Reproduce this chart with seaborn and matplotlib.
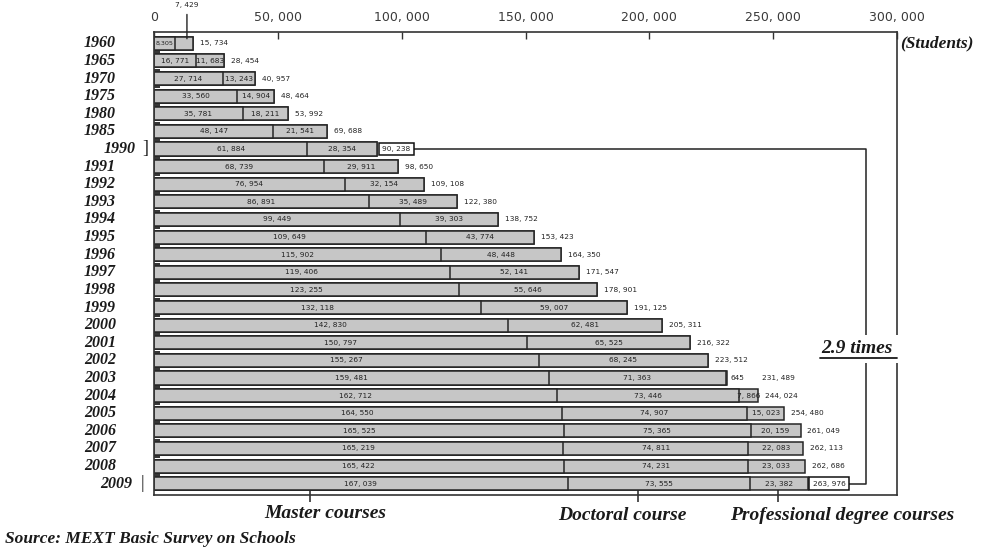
import numpy as np
import pandas as pd
import matplotlib.pyplot as plt
import matplotlib.transforms as mtransforms
import seaborn as sns

sns.set_theme(style="white")
plt.rcParams['font.family'] = ['Liberation Serif', 'DejaVu Serif']

years = ['1960', '1965', '1970', '1975', '1980', '1985', '1990', '1991', '1992', '1993',
         '1994', '1995', '1996', '1997', '1998', '1999', '2000', '2001', '2002', '2003',
         '2004', '2005', '2006', '2007', '2008', '2009']
master = [8305, 16771, 27714, 33560, 35781, 48147, 61884, 68739, 76954, 86891,
          99449, 109649, 115902, 119406, 123255, 132118, 142830, 150797, 155267, 159481,
          162712, 164550, 165525, 165219, 165422, 167039]
doctoral = [7429, 11683, 13243, 14904, 18211, 21541, 28354, 29911, 32154, 35489,
            39303, 43774, 48448, 52141, 55646, 59007, 62481, 65525, 68245, 71363,
            73446, 74907, 75365, 74811, 74231, 73555]
professional = [0, 0, 0, 0, 0, 0, 0, 0, 0, 0,
                0, 0, 0, 0, 0, 0, 0, 0, 0, 645,
                7866, 15023, 20159, 22083, 23033, 23382]
course_names = ['Master courses', 'Doctoral course', 'Professional degree courses']

df = pd.DataFrame({'year': years, 'master': master, 'doctoral': doctoral,
                   'professional': professional})
df['md'] = df['master'] + df['doctoral']
df['total'] = df['md'] + df['professional']


def fmt(v, sep=', '):
    return f'{v:,}'.replace(',', sep)


W, H = 988, 552
fig = plt.figure(figsize=(W / 100, H / 100), dpi=100)
ax = fig.add_axes([154 / W, 1 - 495 / H, 743 / W, 463 / H])

fill, edge = '#c6c6c6', '#262626'
for col in ['total', 'md', 'master']:
    sns.barplot(data=df, x=col, y='year', orient='h', color=fill, saturation=1,
                edgecolor=edge, linewidth=1.1, width=0.74, ax=ax)

n = len(years)
ax.set_xlim(0, 300000)
ax.set_ylim(n - 1 + 0.64, -0.64)
ax.set_xlabel('')
ax.set_ylabel('')

# top numeric axis
ax.xaxis.tick_top()
ticks = np.arange(0, 300001, 50000)
ax.set_xticks(ticks)
ax.set_xticklabels([fmt(t) for t in ticks], family='DejaVu Sans', fontsize=9, color='#3a3a3a')
ax.tick_params(axis='x', top=True, direction='in', length=5, width=1, color='#333333', pad=6)
ax.set_yticks([])
ax.set_yticks(np.arange(0.5, n - 1), minor=True)
ax.tick_params(axis='y', which='minor', left=True, direction='in', length=4, width=1.3,
               color='#222222')
for s in ax.spines.values():
    s.set_color('#333333')
    s.set_linewidth(1.2)

# bottom ticks pointing to course names
sec = ax.secondary_xaxis('bottom')
sec.set_xticks([63000, 195500, 252000])
sec.set_xticklabels(['', '', ''])
sec.tick_params(direction='inout', length=10, width=1.2, color='#333333')
sec.spines['bottom'].set_visible(False)

# year labels
tr = mtransforms.blended_transform_factory(ax.transAxes, ax.transData)
yfont = dict(fontsize=11.5, fontweight='bold', fontstyle='italic', color='#1a1a1a',
             va='center', ha='right', transform=tr)
mark = dict(yfont, ha='center', fontstyle='normal', fontweight='normal', fontsize=13)
for i, y in enumerate(years):
    if y == '1990':
        ax.text(-0.025, i, y, **yfont)
        ax.text(-0.012, i, ']', **mark)
    elif y == '2009':
        ax.text(-0.03, i, y, **yfont)
        ax.text(-0.015, i, '|', **mark)
    else:
        ax.text(-0.051, i, y, **yfont)

# segment and total labels
lab = dict(fontsize=5.3, family='DejaVu Sans', color='#222222', va='center')
for i, r in df.iterrows():
    if i == 0:
        ax.text(r['master'] / 2, i, fmt(r['master'], ','), ha='center',
                **dict(lab, fontsize=4.6))
        ax.annotate(fmt(r['doctoral']), xy=(13300, -0.1), xytext=(13300, -2.15), ha='center',
                    arrowprops=dict(arrowstyle='-', color='#222222', lw=1.0),
                    annotation_clip=False, **lab)
    else:
        ax.text(r['master'] / 2, i, fmt(r['master']), ha='center', **lab)
        ax.text(r['master'] + r['doctoral'] / 2, i, fmt(r['doctoral']), ha='center', **lab)
    p = r['professional']
    off = 5
    if p >= 5000:
        ax.text(r['md'] + p / 2, i, fmt(p), ha='center', **lab)
    elif p > 0:
        ax.annotate(fmt(p), xy=(r['total'], i), xytext=(2, 0), textcoords='offset points',
                    ha='left', **lab)
        off = 25
    if years[i] in ('1990', '2009'):
        ax.annotate(fmt(r['total']), xy=(r['total'], i), xytext=(3.5, 0),
                    textcoords='offset points', ha='left', zorder=6,
                    bbox=dict(boxstyle='square,pad=0.45', fc='white', ec='#111111', lw=1.1),
                    **lab)
    else:
        ax.annotate(fmt(r['total']), xy=(r['total'], i), xytext=(off, 0),
                    textcoords='offset points', ha='left', **lab)

# 2.9 times bracket
i90, i09 = years.index('1990'), years.index('2009')
bx = 287600
ax.plot([101000, bx, bx, 280800], [i90, i90, i09, i09], color='#222222', lw=1.1,
        clip_on=False, zorder=5)
ax.text(284000, 17.35, '2.9 times', fontsize=14, fontweight='bold', fontstyle='italic',
        ha='center', va='center', color='#1a1a1a', zorder=7, clip_on=False,
        bbox=dict(boxstyle='square,pad=0.3', fc='white', ec='none'))
fig.add_artist(plt.Line2D([820 / W, 897 / W], [1 - 358 / H, 1 - 358 / H],
                          color='#1a1a1a', lw=1.3, zorder=10))

# texts around the axes
bold_it = dict(fontweight='bold', fontstyle='italic', color='#1a1a1a')
fig.text(900 / W, 1 - 43 / H, '(Students)', fontsize=12.5, ha='left', va='center', **bold_it)
for name, xc, yc in zip(course_names, [325, 622, 842], [513, 516, 516]):
    fig.text(xc / W, 1 - yc / H, name, fontsize=14, ha='center', va='center', **bold_it)
fig.text(5 / W, 1 - 539 / H, 'Source: MEXT Basic Survey on Schools', fontsize=12.5,
         ha='left', va='center', **bold_it)

fig.savefig('out.png', dpi=100, facecolor='white')
